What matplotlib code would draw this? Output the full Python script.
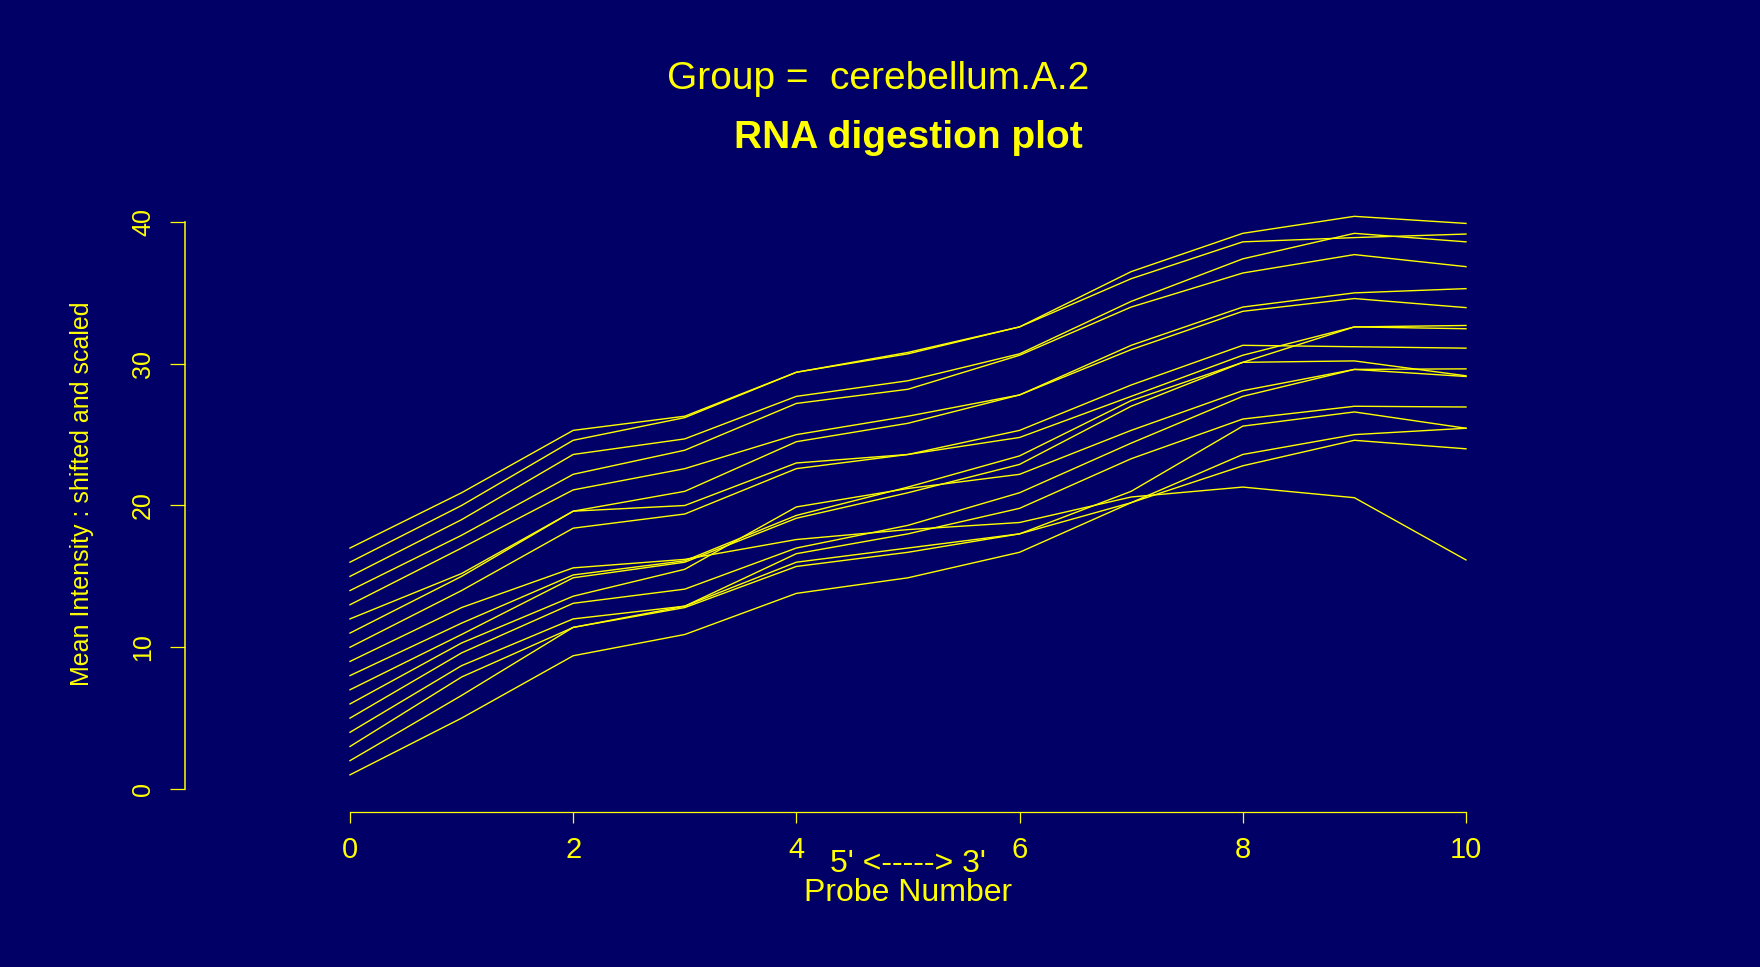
import matplotlib
matplotlib.use("Agg")
import matplotlib.pyplot as plt
import numpy as np

# Probe positions along the transcript (5' -> 3')
probe_number = list(range(11))

# Shifted and scaled mean intensity per array (array i starts at i)
array_01 = [1, 5.0, 9.4, 10.9, 13.8, 14.9, 16.7, 20.2, 22.8, 24.6, 24.0]
array_02 = [2, 6.6, 11.4, 12.8, 15.7, 16.7, 18.0, 20.2, 23.6, 25.0, 25.45]
array_03 = [3, 7.9, 11.4, 12.9, 16.0, 17.0, 18.0, 21.0, 25.6, 26.6, 25.45]
array_04 = [4, 8.7, 12.0, 12.9, 16.6, 18.0, 19.8, 23.3, 26.1, 27.0, 26.95]
array_05 = [5, 9.6, 13.1, 14.1, 17.0, 18.6, 20.9, 24.4, 27.7, 29.6, 29.1]
array_06 = [6, 10.3, 13.6, 15.5, 19.9, 21.2, 22.2, 25.3, 28.1, 29.6, 29.64]
array_07 = [7, 10.9, 14.9, 16.0, 19.1, 20.9, 22.9, 27.0, 30.1, 30.2, 29.15]
array_08 = [8, 11.7, 15.1, 16.1, 19.3, 21.3, 23.5, 27.4, 30.1, 32.6, 32.47]
array_09 = [9, 12.8, 15.6, 16.2, 17.6, 18.3, 18.8, 20.6, 21.3, 20.55, 16.16]
array_10 = [10, 14.0, 18.4, 19.4, 22.6, 23.6, 24.8, 27.7, 30.6, 32.6, 32.7]
array_11 = [11, 15.0, 19.6, 20.0, 23.0, 23.6, 25.3, 28.5, 31.3, 31.2, 31.1]
array_12 = [12, 15.2, 19.6, 21.0, 24.5, 25.8, 27.8, 31.0, 33.7, 34.6, 33.96]
array_13 = [13, 17.0, 21.1, 22.6, 25.0, 26.3, 27.8, 31.3, 34.0, 35.0, 35.3]
array_14 = [14, 17.9, 22.2, 23.9, 27.2, 28.2, 30.6, 34.0, 36.4, 37.7, 36.85]
array_15 = [15, 19.0, 23.6, 24.7, 27.7, 28.8, 30.7, 34.4, 37.4, 39.2, 38.6]
array_16 = [16, 20.0, 24.6, 26.2, 29.4, 30.7, 32.6, 36.0, 38.6, 38.9, 39.15]
array_17 = [17, 20.9, 25.3, 26.3, 29.4, 30.8, 32.6, 36.5, 39.2, 40.4, 39.9]

arrays = [array_01, array_02, array_03, array_04, array_05, array_06,
          array_07, array_08, array_09, array_10, array_11, array_12,
          array_13, array_14, array_15, array_16, array_17]

x_ticks = [0, 2, 4, 6, 8, 10]
y_ticks = [0, 10, 20, 30, 40]

BG = "#000066"
FG = "#ffff00"
W, H = 1760, 967
DPI = 100

fig = plt.figure(figsize=(W / DPI, H / DPI), dpi=DPI, facecolor=BG)

# axis limits in the R style: range padded by 4 %
xlim = (-1.0, 10.0)
all_vals = np.concatenate([np.asarray(a) for a in arrays])
ylim = (all_vals.min() - 1, all_vals.max() + 1)
xpad = 0.04 * (xlim[1] - xlim[0])
ypad = 0.04 * (ylim[1] - ylim[0])
xl = (xlim[0] - xpad, xlim[1] + xpad)
yl = (ylim[0] - ypad, ylim[1] + ypad)

# pixel placement of the data region
x0_px, x10_px = 350.0, 1466.0
y0_px, y40_px = 789.0, 222.0
sx = (x10_px - x0_px) / 10.0
sy = (y0_px - y40_px) / 40.0
left_px = x0_px + xl[0] * sx - 4
right_px = x0_px + xl[1] * sx
bottom_px = y0_px - yl[0] * sy
top_px = y0_px - yl[1] * sy

ax = fig.add_axes([left_px / W, 1 - bottom_px / H,
                   (right_px - left_px) / W, (bottom_px - top_px) / H])
ax.set_facecolor(BG)
ax.set_xlim(xl[0] - 4 / sx, xl[1])
ax.set_ylim(yl)

for a in arrays:
    ax.plot(probe_number, a, color=FG, lw=1.0, solid_joinstyle="miter")

for side in ("top", "right"):
    ax.spines[side].set_visible(False)
ax.spines["left"].set_bounds(0, 40)
ax.spines["bottom"].set_bounds(0, 10)
ax.spines["left"].set_color(FG)
ax.spines["bottom"].set_color(FG)
ax.spines["left"].set_linewidth(1.1)
ax.spines["bottom"].set_linewidth(0.9)

ax.set_xticks(x_ticks)
ax.set_yticks(y_ticks)
ax.set_xticklabels([str(t) for t in x_ticks], fontsize=21,
                   family="Liberation Sans", color=FG)
ax.set_yticklabels([str(t) for t in y_ticks], fontsize=18,
                   family="Liberation Sans", color=FG, rotation=90,
                   va="center")
ax.tick_params(axis="x", direction="out", length=7.8, width=0.9,
               color=FG, pad=9)
ax.tick_params(axis="y", direction="out", length=10.8, width=0.9,
               color=FG, pad=11)

def fx(px):
    return px / W

def fy(py):
    return 1 - py / H

fig.text(fx(878), fy(79), "Group =  cerebellum.A.2", color=FG,
         fontsize=28, family="Liberation Sans", ha="center", va="center")
fig.text(fx(908), fy(138), "RNA digestion plot", color=FG,
         fontsize=28, fontweight="bold", family="Liberation Sans",
         ha="center", va="center")
fig.text(fx(908), fy(864), "5' <-----> 3'", color=FG,
         fontsize=23, family="Liberation Sans", ha="center", va="center")
fig.text(fx(908), fy(893), "Probe Number", color=FG,
         fontsize=23, family="Liberation Sans", ha="center", va="center")
fig.text(fx(82), fy(494), "Mean Intensity : shifted and scaled", color=FG,
         fontsize=18, family="Liberation Sans", ha="center", va="center",
         rotation=90)

fig.savefig("out.png", dpi=DPI, facecolor=BG)
